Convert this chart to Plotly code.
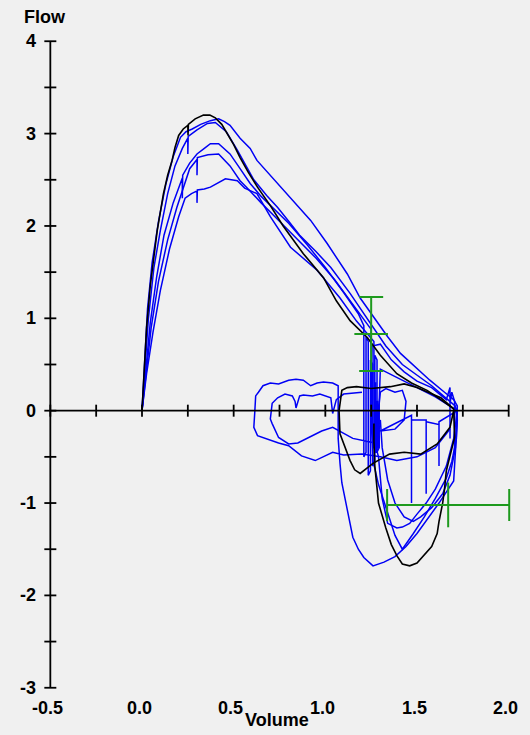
import plotly.graph_objects as go

# ---- axis ticks -------------------------------------------------------------
x_tick_vals = [-0.5, -0.25, 0.0, 0.25, 0.5, 0.75, 1.0, 1.25, 1.5, 1.75, 2.0]
x_label_vals = [-0.5, 0.0, 0.5, 1.0, 1.5, 2.0]
x_label_text = ["-0.5", "0.0", "0.5", "1.0", "1.5", "2.0"]
y_tick_vals = [-3, -2.5, -2, -1.5, -1, -0.5, 0, 0.5, 1, 1.5, 2, 2.5, 3, 3.5, 4]
y_label_vals = [-3, -2, -1, 0, 1, 2, 3, 4]
y_label_text = ["-3", "-2", "-1", "0", "1", "2", "3", "4"]

# ---- black loops (reference manoeuvre) -------------------------------------
k1_vol = [0.0, 0.01, 0.025, 0.045, 0.065, 0.083, 0.1, 0.117, 0.14, 0.164, 0.18, 0.20,
          0.225, 0.25, 0.251, 0.253, 0.29, 0.335, 0.37, 0.40, 0.435, 0.465, 0.50, 0.535,
          0.58, 0.63, 0.70, 0.77, 0.88, 0.99, 1.06, 1.135, 1.23, 1.30, 1.39, 1.47, 1.555,
          1.63, 1.70, 1.705, 1.68, 1.66, 1.65, 1.64, 1.62, 1.61, 1.58, 1.53, 1.50, 1.46,
          1.42, 1.39, 1.36, 1.33, 1.31, 1.29, 1.28, 1.27, 1.265, 1.265]
k1_flow = [0.0, 0.4, 0.9, 1.35, 1.7, 1.95, 2.15, 2.35, 2.55, 2.71, 2.85, 2.98,
           3.05, 3.09, 2.98, 3.10, 3.16, 3.20, 3.20, 3.17, 3.10, 3.00, 2.88, 2.74,
           2.58, 2.42, 2.22, 2.0, 1.70, 1.44, 1.19, 0.975, 0.79, 0.6, 0.4, 0.3, 0.22,
           0.12, 0.02, -0.29, -0.5, -0.65, -0.85, -1.0, -1.2, -1.33, -1.47, -1.59, -1.65, -1.68,
           -1.66, -1.57, -1.45, -1.27, -1.12, -1.0, -0.8, -0.6, -0.33, -0.14]

k2_vol = [1.70, 1.68, 1.61, 1.52, 1.43, 1.35, 1.26, 1.22, 1.19, 1.16, 1.135, 1.08, 1.075, 1.09,
          1.12, 1.17, 1.25, 1.355, 1.43, 1.50, 1.555, 1.63, 1.70]
k2_flow = [0.0, -0.18, -0.36, -0.47, -0.45, -0.47, -0.57, -0.63, -0.68, -0.64, -0.54, -0.25, 0.0, 0.22,
           0.25, 0.26, 0.24, 0.26, 0.29, 0.25, 0.20, 0.14, 0.02]

# ---- blue loops (trial manoeuvres) -----------------------------------------
b1_vol = [0.0, 0.012, 0.03, 0.055, 0.09, 0.13, 0.17, 0.21, 0.24, 0.274, 0.32, 0.373,
          0.418, 0.45, 0.48, 0.535, 0.59, 0.627, 0.70, 0.76, 0.82, 0.92, 1.01, 1.12,
          1.19, 1.28, 1.34, 1.41, 1.49, 1.57, 1.65, 1.70, 1.72,
          1.715, 1.69, 1.66, 1.60, 1.54, 1.48, 1.42, 1.38, 1.33, 1.29, 1.26, 1.25]
b1_flow = [0.0, 0.5, 1.1, 1.6, 2.05, 2.45, 2.75, 2.96, 3.02, 3.05, 3.10, 3.14,
           3.16, 3.13, 3.09, 2.95, 2.84, 2.71, 2.55, 2.42, 2.28, 2.06, 1.81, 1.48,
           1.22, 0.97, 0.8, 0.62, 0.47, 0.33, 0.2, 0.12, 0.05,
           -0.3, -0.55, -0.73, -0.95, -1.15, -1.33, -1.5, -1.35, -1.05, -0.8, -0.54, -0.1]

b2_vol = [0.0, 0.015, 0.035, 0.065, 0.10, 0.14, 0.18, 0.22, 0.25, 0.25, 0.252, 0.30,
          0.357, 0.40, 0.46, 0.52, 0.57, 0.61, 0.68, 0.74, 0.80, 0.86, 0.95, 1.03, 1.135,
          1.2, 1.25, 1.33, 1.42, 1.50, 1.58, 1.65, 1.71,
          1.72, 1.71, 1.70, 1.62, 1.55, 1.50, 1.44, 1.38, 1.32, 1.26, 1.21, 1.18, 1.15,
          1.13, 1.11, 1.09, 1.08, 1.07, 1.07,
          1.07, 1.04, 0.99, 0.955, 0.92, 0.88, 0.84, 0.80, 0.745, 0.70, 0.66, 0.635, 0.62,
          0.615, 0.61, 0.63, 0.67, 0.745, 0.80, 0.835, 0.87, 0.945, 0.98, 1.04, 1.1, 1.2,
          1.3, 1.39, 1.5, 1.6, 1.68]
b2_flow = [0.0, 0.45, 1.0, 1.55, 1.95, 2.35, 2.65, 2.84, 2.95, 2.78, 2.97, 3.04,
           3.11, 3.12, 3.02, 2.82, 2.65, 2.5, 2.33, 2.2, 2.05, 1.9, 1.72, 1.55, 1.27,
           1.08, 0.92, 0.7, 0.5, 0.38, 0.27, 0.15, 0.05,
           -0.1, -0.4, -0.76, -1.0, -1.2, -1.33, -1.47, -1.58, -1.64, -1.68, -1.59, -1.5, -1.37,
           -1.18, -1.0, -0.78, -0.57, -0.3, 0.0,
           0.27, 0.30, 0.31, 0.30, 0.27, 0.33, 0.34, 0.33, 0.29, 0.30, 0.27, 0.2, 0.16,
           -0.02, -0.18, -0.27, -0.3, -0.35, -0.38, -0.43, -0.49, -0.54, -0.51, -0.45, -0.48, -0.47,
           -0.5, -0.54, -0.5, -0.4, -0.2]

b3_vol = [0.0, 0.02, 0.045, 0.08, 0.12, 0.17, 0.2, 0.22, 0.22, 0.222, 0.26, 0.30, 0.34,
          0.373, 0.418, 0.48, 0.535, 0.59, 0.65, 0.72, 0.80, 0.90, 1.0, 1.1, 1.18, 1.21,
          1.21, 1.222, 1.222, 1.234, 1.234, 1.246, 1.246, 1.258, 1.258, 1.27, 1.27,
          1.282, 1.282, 1.294, 1.294,
          1.30, 1.4, 1.5, 1.6, 1.68, 1.72,
          1.70, 1.66, 1.6, 1.55, 1.5, 1.46, 1.42, 1.39, 1.34, 1.31, 1.29, 1.27,
          1.15, 1.04, 0.98, 0.91, 0.85, 0.80, 0.745, 0.71, 0.70, 0.71, 0.74, 0.78, 0.82,
          0.835, 0.84, 0.86, 0.88, 0.93, 0.97, 1.03, 1.04, 1.06, 1.1, 1.2]
b3_flow = [0.0, 0.45, 0.95, 1.45, 1.9, 2.25, 2.42, 2.52, 2.3, 2.55, 2.68, 2.78, 2.84,
           2.89, 2.89, 2.78, 2.62, 2.46, 2.32, 2.18, 2.03, 1.8, 1.55, 1.28, 1.05, 0.92,
           -0.5, -0.45, 0.8, 0.75, -0.7, -0.65, 0.55, 0.5, -0.6, -0.55, 0.6,
           0.55, -0.45, -0.4, 0.1,
           0.45, 0.35, 0.25, 0.15, 0.05, 0.0,
           -0.3, -0.6, -0.85, -1.0, -1.12, -1.22, -1.26, -1.27, -1.22, -0.95, -0.5, -0.35,
           -0.3, -0.18, -0.22, -0.29, -0.35, -0.36, -0.29, -0.14, -0.09, 0.08, 0.14, 0.18, 0.16,
           0.1, 0.03, 0.16, 0.17, 0.16, 0.18, 0.14, -0.03, 0.12, 0.18, 0.2]

b4_vol = [0.0, 0.022, 0.05, 0.09, 0.14, 0.19, 0.23, 0.26, 0.30, 0.30, 0.302, 0.36,
          0.418, 0.48, 0.535, 0.57, 0.65, 0.75, 0.85, 0.95, 1.05, 1.15, 1.21, 1.25,
          1.25, 1.255, 1.3, 1.36, 1.43, 1.5, 1.58, 1.62, 1.66, 1.68, 1.68, 1.68, 1.69,
          1.705, 1.705, 1.705, 1.72,
          1.71, 1.68, 1.64, 1.58, 1.52, 1.48, 1.43, 1.38, 1.34, 1.31, 1.3]
b4_flow = [0.0, 0.42, 0.9, 1.4, 1.85, 2.2, 2.45, 2.62, 2.72, 2.55, 2.74, 2.77,
           2.78, 2.65, 2.49, 2.42, 2.25, 2.05, 1.85, 1.65, 1.42, 1.15, 1.0, 0.88,
           -0.2, 0.7, 0.72, 0.55, 0.42, 0.32, 0.25, 0.18, 0.12, 0.25, -0.3, 0.08, 0.2,
           0.1, -0.45, 0.05, 0.0,
           -0.4, -0.7, -0.9, -1.05, -1.15, -1.2, -1.15, -1.0, -0.75, -0.4, -0.1]

b5_vol = [0.0, 0.025, 0.06, 0.1, 0.15, 0.2, 0.235, 0.27, 0.30, 0.30, 0.302, 0.34,
          0.373, 0.455, 0.52, 0.56, 0.627, 0.70, 0.81, 0.955, 1.08, 1.17, 1.22, 1.265,
          1.265, 1.27, 1.27, 1.275, 1.275, 1.28, 1.28, 1.285, 1.285, 1.29, 1.29, 1.3,
          1.33, 1.38, 1.42, 1.44, 1.43, 1.38, 1.3,
          1.47, 1.47, 1.47, 1.55, 1.55, 1.55, 1.62, 1.62, 1.62, 1.72]
b5_flow = [0.0, 0.4, 0.85, 1.3, 1.75, 2.1, 2.30, 2.35, 2.38, 2.25, 2.39, 2.40,
           2.42, 2.51, 2.49, 2.41, 2.35, 2.1, 1.77, 1.52, 1.22, 0.97, 0.85, 0.75,
           -0.4, -0.4, 0.3, 0.3, -0.45, -0.45, 0.1, 0.1, -0.4, -0.4, 0.0, 0.2,
           0.24, 0.2, 0.22, 0.1, -0.1, -0.2, -0.22,
           -0.05, -1.0, -0.1, -0.1, -0.9, -0.12, -0.15, -0.6, -0.12, 0.0]

# ---- predicted values with ranges -------------------------------------------
pef_vol = [1.25]
pef_flow = [0.83]
pef_err = [0.4]
pif_vol = [1.67]
pif_flow = [-1.02]
pif_err = [0.333]

BLUE = "#0000f5"
BLACK = "#000000"
GREEN = "#1e9a1e"
BG = "#f0f0f0"

fig = go.Figure()

blue_loops = [(b1_vol, b1_flow), (b2_vol, b2_flow), (b3_vol, b3_flow),
              (b4_vol, b4_flow), (b5_vol, b5_flow)]
for vx, fy in blue_loops:
    fig.add_trace(go.Scatter(x=vx, y=fy, mode="lines",
                             line=dict(color=BLUE, width=1.5), hoverinfo="skip"))

for vx, fy in [(k1_vol, k1_flow), (k2_vol, k2_flow)]:
    fig.add_trace(go.Scatter(x=vx, y=fy, mode="lines",
                             line=dict(color=BLACK, width=1.6), hoverinfo="skip"))

fig.add_trace(go.Scatter(
    x=pef_vol, y=pef_flow, mode="markers",
    marker=dict(symbol="line-ew-open", size=24, color=GREEN,
                line=dict(color=GREEN, width=2)),
    error_y=dict(type="data", array=pef_err, color=GREEN, thickness=2, width=12),
    hoverinfo="skip"))
fig.add_trace(go.Scatter(
    x=pif_vol, y=pif_flow, mode="markers",
    marker=dict(symbol="line-ns-open", size=32, color=GREEN,
                line=dict(color=GREEN, width=2)),
    error_x=dict(type="data", array=pif_err, color=GREEN, thickness=2, width=16),
    hoverinfo="skip"))

# ---- axes drawn as a cross through the origin ------------------------------
X_MIN, X_MAX = -0.6, 2.1
Y_MIN, Y_MAX = -3.1, 4.1
ML, MR, MT, MB = 32, 3, 32, 38
W, H = 530, 735
px_x = (W - ML - MR) / (X_MAX - X_MIN)
px_y = (H - MT - MB) / (Y_MAX - Y_MIN)
tick_half = 6
dx = tick_half / px_x
dy = tick_half / px_y
axis_line = dict(color="#000000", width=1.8)

shapes = [
    dict(type="line", xref="x", yref="y", x0=-0.5, x1=-0.5,
         y0=y_tick_vals[0], y1=y_tick_vals[-1], line=axis_line),
    dict(type="line", xref="x", yref="y", x0=x_tick_vals[0], x1=x_tick_vals[-1],
         y0=0, y1=0, line=axis_line),
]
for t in y_tick_vals:
    shapes.append(dict(type="line", xref="x", yref="y", x0=-0.5 - dx, x1=-0.5 + dx,
                       y0=t, y1=t, line=axis_line))
for t in x_tick_vals:
    shapes.append(dict(type="line", xref="x", yref="y", x0=t, x1=t,
                       y0=-dy, y1=dy, line=axis_line))

label_font = dict(family="Liberation Sans, Arial, sans-serif", size=18,
                  color="#000000", weight="bold")
annotations = []
for v, txt in zip(x_label_vals, x_label_text):
    annotations.append(dict(x=v, y=-3, xref="x", yref="y", text=txt, showarrow=False,
                            xanchor="center", yanchor="middle", xshift=-3, yshift=-20,
                            font=label_font))
for v, txt in zip(y_label_vals, y_label_text):
    annotations.append(dict(x=-0.5, y=v, xref="x", yref="y", text=txt, showarrow=False,
                            xanchor="right", yanchor="middle", xshift=-12,
                            font=label_font))
annotations.append(dict(x=-0.5, y=4, xref="x", yref="y", text="Flow", showarrow=False,
                        xanchor="center", yanchor="middle", xshift=-5, yshift=24,
                        font=label_font))
annotations.append(dict(x=0.737, y=-3, xref="x", yref="y", text="Volume", showarrow=False,
                        xanchor="center", yanchor="middle", yshift=-32,
                        font=label_font))

fig.update_layout(
    width=W, height=H,
    margin=dict(l=ML, r=MR, t=MT, b=MB),
    paper_bgcolor=BG, plot_bgcolor=BG,
    showlegend=False,
    xaxis=dict(range=[X_MIN, X_MAX], visible=False, fixedrange=True),
    yaxis=dict(range=[Y_MIN, Y_MAX], visible=False, fixedrange=True),
    shapes=shapes,
    annotations=annotations,
)

fig.write_html("out.html")
